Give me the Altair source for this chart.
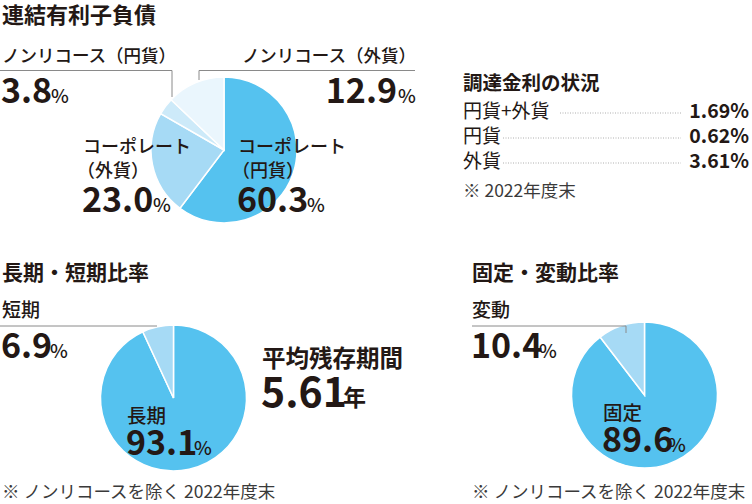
import altair as alt
import pandas as pd

# ---- data ----
debt_labels = ["コーポレート（円貨）", "コーポレート（外貨）", "ノンリコース（円貨）", "ノンリコース（外貨）"]
debt_values = [60.3, 23.0, 3.8, 12.9]
term_labels = ["長期", "短期"]
term_values = [93.1, 6.9]
rate_labels = ["固定", "変動"]
rate_values = [89.6, 10.4]
funding_labels = ["円貨+外貨", "円貨", "外貨"]
funding_rates = [1.69, 0.62, 3.61]
avg_remaining_years = 5.61

BLUE = "#55C2EF"
LIGHT = "#A6DAF5"
LIGHTER = "#CDEAF9"
LIGHTEST = "#EAF6FD"
TXT = "#231815"
GRAY = "#8a8a8a"
JP = "Noto Sans CJK JP"
M = 500

layers = []


def pie(labels, values, colors, cx, cy, r=73):
    df = pd.DataFrame({"label": labels, "value": values, "color": colors,
                       "order": list(range(len(values)))})
    return alt.Chart(df).mark_arc(radius=r, stroke="white", strokeWidth=1.5).encode(
        theta=alt.Theta("value:Q", stack=True),
        color=alt.Color("color:N", scale=None),
        order=alt.Order("order:Q"),
        x=alt.value(cx), y=alt.value(cy),
    )


def txt(s, x, y, size, weight="normal", align="left", color=TXT):
    return alt.Chart(pd.DataFrame({"t": [s]})).mark_text(
        align=align, baseline="alphabetic", fontSize=size, fontWeight=weight,
        font=JP, color=color,
    ).encode(x=alt.value(x), y=alt.value(y), text="t:N")


def rule(x1, x2, y1, y2, color=GRAY, dash=None, width=1):
    kw = dict(color=color, strokeWidth=width)
    if dash:
        kw["strokeDash"] = dash
    return alt.Chart(pd.DataFrame({"a": [0]})).mark_rule(**kw).encode(
        x=alt.value(x1), x2=alt.value(x2), y=alt.value(y1), y2=alt.value(y2))


def pct(v):
    return f"{v:.1f}"


# ---- pie 1: 連結有利子負債 ----
layers.append(pie(debt_labels, debt_values, [BLUE, LIGHT, LIGHTER, LIGHTEST], 224, 150))
layers.append(txt("連結有利子負債", 2, 23, 22, "bold"))
layers.append(rule(0, 172, 70.5, 70.5))
layers.append(rule(172, 172, 70.5, 97))
layers.append(rule(199, 415, 70.5, 70.5))
layers.append(rule(199, 199, 70.5, 80))
layers.append(txt(debt_labels[2], 2, 62, 17.5, M))
layers.append(txt(pct(debt_values[2]), 1, 103, 34, "bold"))
layers.append(txt("%", 51, 103, 19, M))
layers.append(txt(debt_labels[3], 416, 62, 17.5, M, "right"))
layers.append(txt(pct(debt_values[3]), 397, 103, 34, "bold", "right"))
layers.append(txt("%", 398, 103, 19, M))
layers.append(txt("コーポレート", 83, 153, 18, M))
layers.append(txt("（外貨）", 77, 177, 18, M))
layers.append(txt(pct(debt_values[1]), 82, 212, 34, "bold"))
layers.append(txt("%", 153, 212, 19, M))
layers.append(txt("コーポレート", 238, 153, 18, M))
layers.append(txt("（円貨）", 232, 177, 18, M))
layers.append(txt(pct(debt_values[0]), 237, 212, 34, "bold"))
layers.append(txt("%", 307, 212, 19, M))

# ---- 調達金利の状況 ----
layers.append(txt("調達金利の状況", 463, 90, 19.5, "bold"))
fund_y = [118, 143, 168]
dot_start = [560, 503, 503]
for lab, r, y, xs in zip(funding_labels, funding_rates, fund_y, dot_start):
    layers.append(txt(lab, 463, y, 19, "normal"))
    layers.append(rule(xs, 681, y - 5, y - 5, color="#9a9a9a", dash=[1, 1.5], width=0.8))
    layers.append(txt(f"{r:.2f}%", 749, y, 19.5, "bold", "right"))
layers.append(txt("※ 2022年度末", 463, 197, 17.5, "normal", color="#3a3a3a"))

# ---- pie 2: 長期・短期比率 ----
layers.append(pie(term_labels, term_values, [BLUE, LIGHT], 173.5, 398))
layers.append(txt("長期・短期比率", 2, 280, 21, "bold"))
layers.append(txt(term_labels[1], 2, 317, 19, M))
layers.append(rule(0, 157, 326, 326))
layers.append(txt(pct(term_values[1]), 1, 358, 34, "bold"))
layers.append(txt("%", 50, 358, 19, M))
layers.append(txt("平均残存期間", 262, 367, 23.5, "bold"))
layers.append(txt(f"{avg_remaining_years:.2f}", 261, 407, 41, "bold"))
layers.append(txt("年", 343, 406, 23, "bold"))
layers.append(txt(term_labels[0], 127, 423, 19.5, M))
layers.append(txt(pct(term_values[0]), 126, 455, 34, "bold"))
layers.append(txt("%", 194, 455, 19, M))
layers.append(txt("※ ノンリコースを除く 2022年度末", 2, 498, 17.5, "normal", color="#3a3a3a"))

# ---- pie 3: 固定・変動比率 ----
layers.append(pie(rate_labels, rate_values, [BLUE, LIGHT], 644.5, 395))
layers.append(txt("固定・変動比率", 472, 280, 21, "bold"))
layers.append(txt(rate_labels[1], 472, 317, 19, M))
layers.append(rule(472, 626, 326, 326))
layers.append(rule(626, 626, 326, 333))
layers.append(txt(pct(rate_values[1]), 471, 358, 34, "bold"))
layers.append(txt("%", 539, 358, 19, M))
layers.append(txt(rate_labels[0], 603, 420, 19.5, M))
layers.append(txt(pct(rate_values[0]), 602, 452, 34, "bold"))
layers.append(txt("%", 668, 452, 19, M))
layers.append(txt("※ ノンリコースを除く 2022年度末", 472, 498, 17.5, "normal", color="#3a3a3a"))

chart = alt.layer(*layers).resolve_scale(theta="independent").properties(
    width=752, height=504, padding=0, autosize="none", background="white"
).configure_view(stroke=None)

chart.save("out.html", embed_options={"renderer": "svg", "actions": False})
